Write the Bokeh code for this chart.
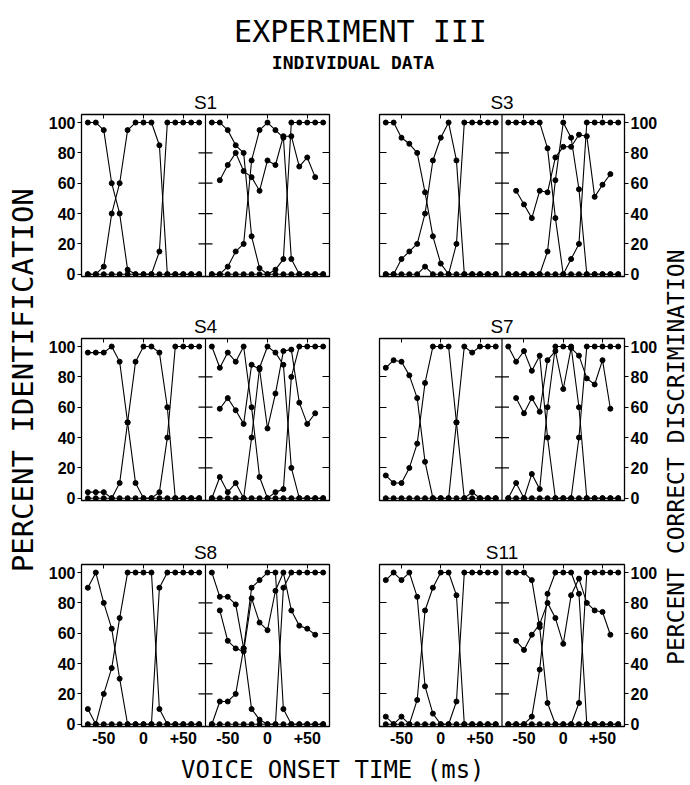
import math
from bokeh.plotting import figure
from bokeh.models import Range1d, LinearAxis, FixedTicker, Span
from bokeh.layouts import row, column
from bokeh.embed import file_html
from bokeh.resources import INLINE
from bokeh.core.properties import value

# ---------------- data ----------------
ID_VOT = [-70, -60, -50, -40, -30, -20, -10, 0, 10, 20, 30, 40, 50, 60, 70]
DISC_VOT = [-60, -50, -40, -30, -20, -10, 0, 10, 20, 30, 40, 50, 60]
X_TICKS = [-50, 0, 50]
X_TICK_LABELS = ["-50", "0", "+50"]
Y_TICKS = [0, 20, 40, 60, 80, 100]
Y_INNER_TICKS = [20, 40, 60, 80]

TITLE = "EXPERIMENT III"
SUBTITLE = "INDIVIDUAL  DATA"
X_TITLE = "VOICE  ONSET  TIME  (ms)"
Y_TITLE_LEFT = "PERCENT  IDENTIFICATION"
Y_TITLE_RIGHT = "PERCENT   CORRECT   DISCRIMINATION"

# S1
S1_L_A = [100, 100, 95, 60, 40, 3, 0, 0, 0, 0, 0, 0, 0, 0, 0]
S1_L_B = [0, 0, 5, 40, 60, 95, 100, 100, 100, 85, 0, 0, 0, 0, 0]
S1_L_C = [0, 0, 0, 0, 0, 0, 0, 0, 0, 15, 100, 100, 100, 100, 100]
S1_R_A = [100, 100, 95, 85, 80, 25, 4, 0, 0, 0, 0, 0, 0, 0, 0]
S1_R_B = [0, 0, 5, 15, 20, 75, 95, 100, 95, 90, 10, 0, 0, 0, 0]
S1_R_C = [0, 0, 0, 0, 0, 0, 0, 0, 3, 10, 100, 100, 100, 100, 100]
S1_DISC = [62, 72, 80, 68, 64, 55, 75, 72, 91, 91, 71, 77, 64]
# S3
S3_L_A = [100, 100, 90, 86, 80, 54, 25, 7, 0, 0, 0, 0, 0, 0, 0]
S3_L_B = [0, 0, 10, 15, 20, 40, 75, 90, 100, 75, 0, 0, 0, 0, 0]
S3_L_C = [0, 0, 0, 0, 0, 5, 0, 0, 0, 20, 100, 100, 100, 100, 100]
S3_R_A = [100, 100, 100, 100, 100, 83, 37, 0, 0, 0, 0, 0, 0, 0, 0]
S3_R_B = [0, 0, 0, 0, 0, 15, 62, 100, 90, 56, 0, 0, 0, 0, 0]
S3_R_C = [0, 0, 0, 0, 0, 0, 0, 0, 10, 20, 100, 100, 100, 100, 100]
S3_DISC = [55, 46, 37, 55, 54, 77, 84, 84, 92, 91, 51, 59, 66]
# S4
S4_L_A = [96, 96, 96, 100, 90, 50, 10, 0, 0, 0, 0, 0, 0, 0, 0]
S4_L_B = [4, 4, 4, 0, 10, 50, 90, 100, 100, 96, 60, 0, 0, 0, 0]
S4_L_C = [0, 0, 0, 0, 0, 0, 0, 0, 0, 4, 40, 100, 100, 100, 100]
S4_R_A = [100, 86, 96, 90, 100, 60, 14, 0, 0, 0, 0, 0, 0, 0, 0]
S4_R_B = [0, 14, 4, 10, 0, 40, 86, 100, 96, 88, 20, 0, 0, 0, 0]
S4_R_C = [0, 0, 0, 0, 0, 0, 0, 0, 4, 6, 80, 100, 100, 100, 100]
S4_DISC = [59, 66, 58, 49, 88, 85, 46, 69, 97, 98, 63, 49, 56]
# S7
S7_L_A = [86, 91, 90, 81, 66, 24, 0, 0, 0, 0, 0, 0, 0, 0, 0]
S7_L_B = [15, 10, 10, 20, 36, 76, 100, 100, 100, 50, 0, 4, 0, 0, 0]
S7_L_C = [0, 0, 0, 0, 0, 0, 0, 0, 0, 50, 100, 96, 100, 100, 100]
S7_R_A = [100, 90, 97, 84, 94, 40, 0, 0, 0, 0, 0, 0, 0, 0, 0]
S7_R_B = [0, 10, 0, 16, 6, 60, 100, 100, 100, 60, 0, 0, 0, 0, 0]
S7_R_C = [0, 0, 0, 0, 0, 0, 0, 0, 0, 40, 100, 100, 100, 100, 100]
S7_DISC = [66, 56, 66, 57, 91, 97, 72, 99, 94, 79, 75, 91, 59]
# S8
S8_L_A = [90, 100, 80, 63, 30, 0, 0, 0, 0, 0, 0, 0, 0, 0, 0]
S8_L_B = [10, 0, 20, 37, 70, 100, 100, 100, 100, 10, 0, 0, 0, 0, 0]
S8_L_C = [0, 0, 0, 0, 0, 0, 0, 0, 0, 90, 100, 100, 100, 100, 100]
S8_R_A = [100, 84, 84, 79, 50, 10, 3, 0, 0, 0, 0, 0, 0, 0, 0]
S8_R_B = [0, 15, 15, 20, 50, 90, 95, 100, 100, 10, 0, 0, 0, 0, 0]
S8_R_C = [0, 0, 0, 0, 0, 0, 0, 0, 0, 90, 100, 100, 100, 100, 100]
S8_DISC = [75, 55, 50, 48, 83, 67, 62, 88, 100, 75, 65, 63, 59]
# S11
S11_L_A = [95, 100, 95, 100, 84, 25, 7, 0, 0, 0, 0, 0, 0, 0, 0]
S11_L_B = [5, 0, 5, 0, 16, 75, 90, 100, 100, 85, 0, 0, 0, 0, 0]
S11_L_C = [0, 0, 0, 0, 0, 0, 0, 0, 0, 15, 100, 100, 100, 100, 100]
S11_R_A = [100, 100, 100, 95, 64, 14, 0, 0, 0, 0, 0, 0, 0, 0, 0]
S11_R_B = [0, 0, 0, 5, 36, 86, 100, 100, 100, 86, 0, 0, 0, 0, 0]
S11_R_C = [0, 0, 0, 0, 0, 0, 0, 0, 0, 14, 100, 100, 100, 100, 100]
S11_DISC = [55, 49, 59, 66, 80, 70, 53, 85, 96, 80, 75, 74, 59]

SUBJECTS = {
    "S1": ([S1_L_A, S1_L_B, S1_L_C], [S1_R_A, S1_R_B, S1_R_C], S1_DISC),
    "S3": ([S3_L_A, S3_L_B, S3_L_C], [S3_R_A, S3_R_B, S3_R_C], S3_DISC),
    "S4": ([S4_L_A, S4_L_B, S4_L_C], [S4_R_A, S4_R_B, S4_R_C], S4_DISC),
    "S7": ([S7_L_A, S7_L_B, S7_L_C], [S7_R_A, S7_R_B, S7_R_C], S7_DISC),
    "S8": ([S8_L_A, S8_L_B, S8_L_C], [S8_R_A, S8_R_B, S8_R_C], S8_DISC),
    "S11": ([S11_L_A, S11_L_B, S11_L_C], [S11_R_A, S11_R_B, S11_R_C], S11_DISC),
}

# ---------------- styling / layout ----------------
HALF = 78            # half-width of one sub-panel in ms
MONO = "DejaVu Sans Mono"
SANS = "Liberation Sans"
FRAME_H = 162
LEFT_STRIP_W = 40
RIGHT_STRIP_W = 30
LEFT_PAIR_W = 41 + 248 + 25
RIGHT_PAIR_W = 25 + 249 + 32
MID_W = LEFT_PAIR_W + RIGHT_PAIR_W


def no_labels(ticks):
    return {t: "" for t in ticks}


def make_pair(name, pos, top_b, bottom_b, show_x_labels):
    ids_l, ids_r, disc = SUBJECTS[name]
    if pos == "left":
        left_b, right_b, width = 41, 25, LEFT_PAIR_W
    else:
        left_b, right_b, width = 25, 32, RIGHT_PAIR_W
    p = figure(width=width, height=top_b + FRAME_H + bottom_b,
               x_range=Range1d(-HALF, 3 * HALF), y_range=Range1d(-1.5, 105.3),
               x_axis_location=None, y_axis_location=None,
               output_backend="svg", toolbar_location=None,
               min_border_left=left_b, min_border_right=right_b,
               min_border_top=top_b, min_border_bottom=bottom_b,
               background_fill_color="white", border_fill_color="white")
    p.extra_x_ranges = {"R": Range1d(-3 * HALF, HALF)}
    p.xgrid.visible = False
    p.ygrid.visible = False
    p.outline_line_color = "black"
    p.outline_line_width = 1.3

    p.title.text = name
    p.title.align = "center"
    p.title.text_font = SANS
    p.title.text_font_size = "19px"
    p.title.text_font_style = "normal"
    p.title.text_color = "black"
    p.title.standoff = 3

    # x ticks for both sub-panels (right sub-panel shifted by 2*HALF on the main range)
    ticks = X_TICKS + [t + 2 * HALF for t in X_TICKS]
    labels = dict(zip(ticks, X_TICK_LABELS + X_TICK_LABELS))
    xb = LinearAxis(ticker=FixedTicker(ticks=ticks), axis_line_color=None,
                    major_tick_in=4, major_tick_out=0, minor_tick_line_color=None,
                    major_label_overrides=labels if show_x_labels else no_labels(ticks),
                    major_label_standoff=5, major_label_text_color="black",
                    major_label_text_font=SANS, major_label_text_font_style="bold",
                    major_label_text_font_size="16px")
    p.add_layout(xb, "below")
    xt = LinearAxis(ticker=FixedTicker(ticks=ticks), axis_line_color=None,
                    major_tick_in=4, major_tick_out=0, minor_tick_line_color=None,
                    major_label_overrides=no_labels(ticks), major_label_standoff=0,
                    major_label_text_font_size="1px")
    p.add_layout(xt, "above")

    lab_side, plain_side = ("left", "right") if pos == "left" else ("right", "left")
    ya = LinearAxis(ticker=FixedTicker(ticks=Y_TICKS), axis_line_color=None,
                    major_tick_in=0, major_tick_out=4, minor_tick_line_color=None,
                    major_label_standoff=2, major_label_text_font=SANS,
                    major_label_text_color="black",
                    major_label_text_font_style="bold", major_label_text_font_size="16px")
    p.add_layout(ya, lab_side)
    yb = LinearAxis(ticker=FixedTicker(ticks=Y_INNER_TICKS), axis_line_color=None,
                    major_tick_in=7, major_tick_out=0, minor_tick_line_color=None,
                    major_label_overrides=no_labels(Y_INNER_TICKS),
                    major_label_standoff=0, major_label_text_font_size="1px")
    p.add_layout(yb, plain_side)

    # divider between the two sub-panels with crossing ticks
    p.add_layout(Span(location=HALF, dimension="height", line_color="black", line_width=1.2))
    p.scatter(x=[HALF] * len(Y_INNER_TICKS), y=Y_INNER_TICKS, marker="dash",
              size=14, line_color="black", line_width=1.2)

    for ys in ids_l:
        p.line(ID_VOT, ys, line_color="black", line_width=1.1)
        p.scatter(ID_VOT, ys, size=5, fill_color="black", line_color="black")
    for ys in ids_r:
        p.line(ID_VOT, ys, line_color="black", line_width=1.1, x_range_name="R")
        p.scatter(ID_VOT, ys, size=5, fill_color="black", line_color="black", x_range_name="R")
    p.line(DISC_VOT, disc, line_color="black", line_width=1.1, x_range_name="R")
    p.scatter(DISC_VOT, disc, size=5, fill_color="black", line_color="black", x_range_name="R")
    return p


def text_fig(w, h):
    f = figure(width=w, height=h, x_range=Range1d(0, w), y_range=Range1d(h, 0),
               x_axis_location=None, y_axis_location=None,
               output_backend="svg", toolbar_location=None,
               min_border=0, outline_line_color=None,
               background_fill_color="white", border_fill_color="white")
    f.xgrid.visible = False
    f.ygrid.visible = False
    return f


# header
hdr = text_fig(MID_W, 86)
hdr.text(x=[320], y=[31], text=[TITLE], text_font=value(MONO), text_font_size="30px",
         text_align="center", text_baseline="middle", text_color="black")
hdr.text(x=[318], y=[62], text=[SUBTITLE], text_font=value(MONO), text_font_size="18px",
         text_font_style="bold", text_align="center", text_baseline="middle", text_color="black")

# rows of subject pairs
r1 = row(make_pair("S1", "left", 28, 34, False), make_pair("S3", "right", 28, 34, False))
r2 = row(make_pair("S4", "left", 28, 34, False), make_pair("S7", "right", 28, 34, False))
r3 = row(make_pair("S8", "left", 30, 30, True), make_pair("S11", "right", 30, 30, True))

xlab = text_fig(MID_W, 29)
xlab.text(x=[314], y=[13], text=[X_TITLE], text_font=value(MONO), text_font_size="24px",
          text_align="center", text_baseline="middle", text_color="black")

left_strip = text_fig(LEFT_STRIP_W, 785)
left_strip.text(x=[22], y=[371], text=[Y_TITLE_LEFT], angle=math.pi / 2,
                text_font=value(MONO), text_font_size="29px",
                text_align="center", text_baseline="middle", text_color="black")
right_strip = text_fig(RIGHT_STRIP_W, 785)
right_strip.text(x=[15], y=[429], text=[Y_TITLE_RIGHT], angle=math.pi / 2,
                 text_font=value(MONO), text_font_size="23px",
                 text_align="center", text_baseline="middle", text_color="black")

layout = row(left_strip, column(hdr, r1, r2, r3, xlab), right_strip)

open("out.html", "w").write(file_html(layout, INLINE))
